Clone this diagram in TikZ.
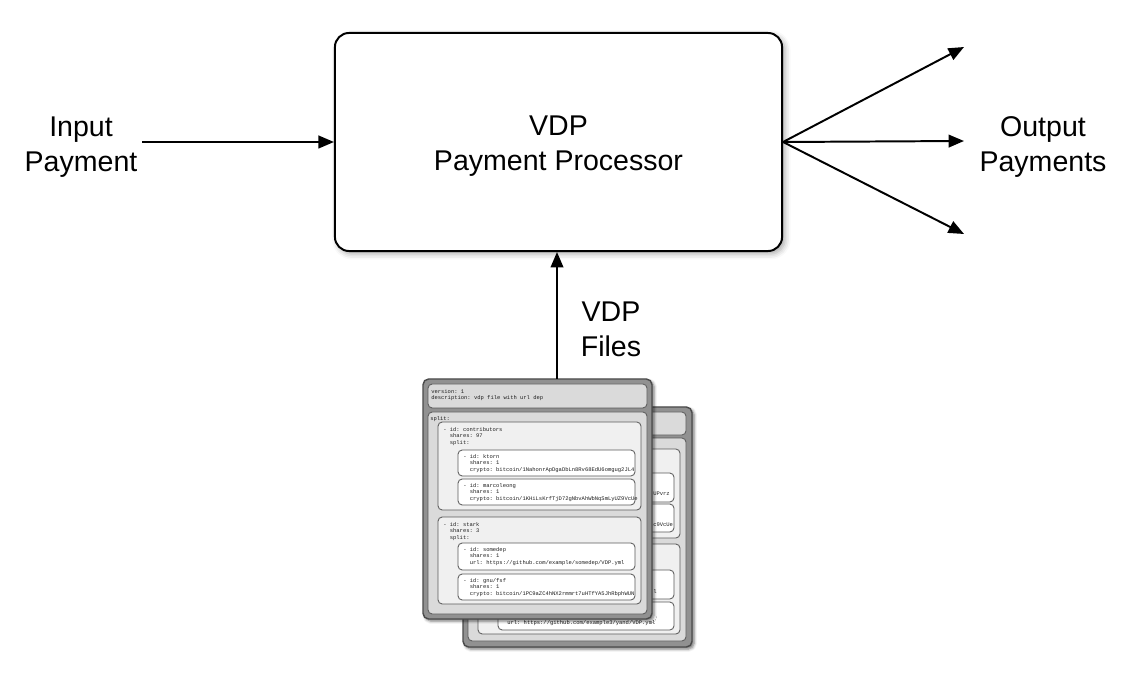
\documentclass[tikz,border=0pt]{standalone}
\usepackage{fontspec}
\setmainfont{Liberation Sans}
\setmonofont{Liberation Mono}
\usetikzlibrary{positioning, arrows.meta, shadows.blur}
\definecolor{FrameColor}{RGB}{145,145,145}
\definecolor{FrameEdge}{RGB}{75,75,75}
\definecolor{PanelColor}{RGB}{218,218,218}
\definecolor{BoxColor}{RGB}{240,240,240}
\definecolor{LineColor}{RGB}{90,90,90}
\definecolor{CodeColor}{RGB}{30,30,30}
\newcommand{\nest}{\hspace*{1.2em}}
\tikzstyle{arrow} = [line width=1.4pt, black, -{Triangle[length=11pt,width=9pt]}]
\tikzstyle{bigtext} = [align=center, font=\fontsize{20.3}{25}\selectfont]
\tikzstyle{procbox} = [rectangle, draw, line width=1.4pt, fill=white, rounded corners=10pt, minimum width=11.175cm, minimum height=5.45cm, blur shadow={shadow xshift=2pt, shadow yshift=-2pt, shadow opacity=35, shadow blur radius=4pt}]
\tikzstyle{docframe} = [draw=FrameEdge, line width=1pt, fill=FrameColor, rounded corners=4pt, blur shadow={shadow xshift=1.5pt, shadow yshift=-1.5pt, shadow opacity=55, shadow blur radius=2pt}]
\tikzstyle{docpanel} = [draw=LineColor, line width=0.6pt, fill=PanelColor, rounded corners=3pt]
\tikzstyle{docbox} = [draw=LineColor, line width=0.6pt, fill=BoxColor, rounded corners=3pt]
\tikzstyle{docitem} = [draw=LineColor, line width=0.6pt, fill=white, rounded corners=3pt]
\tikzstyle{doctext} = [inner sep=0pt, align=left, anchor=north west, text=CodeColor, font=\ttfamily\fontsize{3.9}{4.6}\selectfont]

\begin{document}
\begin{tikzpicture}[x=0.025cm, y=-0.025cm]
    \useasboundingbox (0,0) rectangle (1129,674);
    % Processor and payments
    \node[procbox, bigtext] (proc) at (558.5,142) {};
    \node[bigtext] (proctext) at (558.5,146) {VDP\\Payment Processor};
    \node[bigtext] (inp) at (81,147) {Input\\Payment};
    \node[bigtext] (outp) at (1043,147) {Output\\Payments};
    \node[bigtext] (files) at (611,329) {VDP\\Files};

    \coordinate (out1) at (964,47);
    \coordinate (out2) at (964,141);
    \coordinate (out3) at (964,234);

    \draw[arrow] (inp.east |- proc.west) -- (proc.west);
    \draw[arrow] (proc.east) -- (out1);
    \draw[arrow] (proc.east) -- (out2);
    \draw[arrow] (proc.east) -- (out3);

    % Back VDP file
    \begin{scope}[shift={(463,407)}]
        \draw[docframe] (0,0) rectangle (229,240);
        \draw[docpanel] (5,5) rectangle (223,28);
        \draw[docpanel] (5,31) rectangle (223,234);
        \draw[docbox] (15,42) rectangle (217,131);
        \draw[docitem] (35,66) rectangle (211,95);
        \draw[docitem] (35,97) rectangle (211,125);
        \draw[docbox] (15,137) rectangle (217,227);
        \draw[docitem] (35,163) rectangle (211,192);
        \draw[docitem] (35,195) rectangle (211,223);
        \node[doctext, anchor=base west] (backa) at (190,88) {UPvrz};
        \node[doctext, anchor=base west] (backb) at (190,119) {c9VcUe};
        \node[doctext, anchor=base west] (backc) at (190,186) {l};
        \node[doctext, anchor=base west] (backd) at (44,217) {url: https://github.com/example3/yand/VDP.yml};
    \end{scope}

    % Front VDP file
    \begin{scope}[shift={(423,379)}]
        \draw[docframe] (0,0) rectangle (229,240);
        \draw[docpanel] (5,5) rectangle (224,29);
        \draw[docpanel] (5,33) rectangle (224,235);
        \draw[docbox] (15,43) rectangle (218,131);
        \draw[docitem] (35,71) rectangle (212,97);
        \draw[docitem] (35,100) rectangle (212,126);
        \draw[docbox] (15,138) rectangle (218,225);
        \draw[docitem] (35,164) rectangle (212,191);
        \draw[docitem] (35,195) rectangle (212,221);
        \node[doctext] (hdr) at (8,10) {version: 1\\description: vdp file with url dep};
        \node[doctext] (topsplit) at (7,37) {split:};
        \node[doctext] (contrib) at (20,48) {- id: contributors\\\nest shares: 97\\\nest split:};
        \node[doctext] (ktorn) at (40,75) {- id: ktorn\\\nest shares: 1\\\nest crypto: bitcoin/1NahonrApDgaDbLn8Rv68EdU6omgug2JL4};
        \node[doctext] (marco) at (40,104) {- id: marcoleong\\\nest shares: 1\\\nest crypto: bitcoin/1KHiLsKrfTjD72gNbvAhWbNqSmLyUZ9VcUe};
        \node[doctext] (stark) at (20,143) {- id: stark\\\nest shares: 3\\\nest split:};
        \node[doctext] (somedep) at (40,168) {- id: somedep\\\nest shares: 1\\\nest url: https://github.com/example/somedep/VDP.yml};
        \node[doctext] (gnufsf) at (40,199) {- id: gnu/fsf\\\nest shares: 1\\\nest crypto: bitcoin/1PC9aZC4hNX2rmmrt7uHTfYA5JhRbphWUN};
        \coordinate (filesfoot) at (134,0);
    \end{scope}

    \draw[arrow] (filesfoot) -- (filesfoot |- proc.south);
\end{tikzpicture}
\end{document}
